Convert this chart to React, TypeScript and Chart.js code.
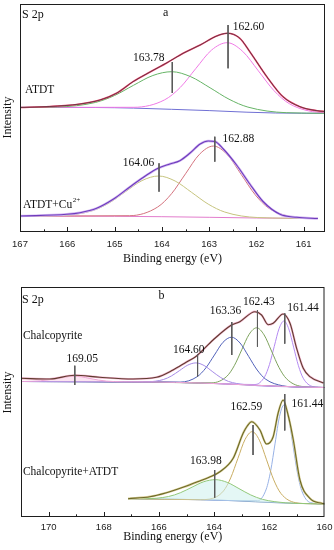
import { useEffect, useRef } from "react";
import { Chart, registerables } from "chart.js";

Chart.register(...registerables);

// ================= Panel a : S 2p, ATDT and ATDT+Cu2+ =================
const aTickLabels = ["167", "166", "165", "164", "163", "162", "161"];

// ATDT (upper spectrum)
const aTopBaseE = [167, 165.4, 164.6, 163.8, 163.0, 162.2, 161.6, 160.5];
const aTopBaseI = [124.6, 124.5, 123.9, 122.7, 121.4, 119.8, 119.0, 118.7];
const aTopFitE = [167.0, 166.37, 165.73, 165.31, 164.95, 164.61, 164.25, 163.89, 163.55, 163.19, 162.84, 162.62, 162.35, 162.14, 161.78, 161.44, 161.08, 160.72, 160.5];
const aTopFitI = [124.5, 125.5, 128.0, 132.0, 139.0, 150.3, 160.0, 169.3, 178.7, 187.0, 196.0, 198.7, 193.7, 180.3, 155.3, 135.3, 125.3, 121.3, 120.3];
const aTopGreenE = [167, 166.21, 165.4, 165.0, 164.6, 164.19, 163.79, 163.39, 162.98, 162.58, 162.18, 161.37, 160.5];
const aTopGreenI = [124.6, 125.0, 129.6, 136.5, 146.7, 156.5, 160.3, 155.3, 144.2, 132.8, 124.9, 119.3, 118.7];
const aTopPinkE = [167, 164.59, 163.94, 163.61, 163.28, 162.95, 162.62, 162.29, 161.96, 161.63, 161.3, 160.65, 160.5];
const aTopPinkI = [124.6, 124.7, 132.2, 144.6, 163.6, 181.9, 189.3, 180.6, 161.2, 141.4, 128.2, 119.5, 119.3];

// ATDT+Cu2+ (lower spectrum)
const aBotBaseE = [167, 165, 164, 163, 162, 161.5, 160.7];
const aBotBaseI = [16, 15.7, 15.3, 14.7, 14.0, 13.8, 13.6];
const aBotFitE = [167.0, 166.01, 165.73, 165.38, 165.03, 164.67, 164.32, 164.08, 163.83, 163.62, 163.41, 163.19, 163.02, 162.88, 162.7, 162.42, 162.14, 161.86, 161.5, 161.15, 160.7];
const aBotFitI = [16.0, 17.7, 19.3, 23.7, 32.7, 45.3, 57.0, 63.7, 68.0, 71.3, 78.7, 88.0, 91.0, 90.5, 83.0, 67.0, 48.0, 30.5, 17.7, 14.7, 13.5];
const aBotOliveE = [167, 166.17, 165.47, 165.12, 164.77, 164.42, 164.07, 163.72, 163.37, 163.02, 162.67, 161.97, 160.7];
const aBotOliveI = [16, 16.35, 21.3, 28.9, 40.3, 51.4, 56.0, 51.0, 39.6, 27.9, 19.95, 14.45, 13.6];
const aBotRedE = [167, 164.68, 164.09, 163.795, 163.5, 163.205, 162.91, 162.615, 162.32, 162.025, 161.73, 161.14, 160.7];
const aBotRedI = [16, 16.3, 24.95, 38.3, 58.2, 77.7, 85.95, 77.3, 57.4, 37.15, 23.55, 14.5, 13.6];

// peak markers of panel a
const aPeakText = ["162.60", "163.78", "162.88", "164.06"];
const aPeakE = [162.6, 163.78, 162.88, 164.06];
const aMarkTop = [207, 170, 95.3, 68.7];
const aMarkBot = [163.7, 139, 70.3, 40.3];

// ================= Panel b : S 2p, Chalcopyrite and Chalcopyrite+ATDT =================
const bTickLabels = ["170", "168", "166", "164", "162", "160"];

// Chalcopyrite (upper spectrum)
const bTopBaseE = [171, 166.3, 164.5, 162.7, 160.9, 160];
const bTopBaseI = [135.5, 135, 134, 132, 130, 129.5];
const bTopFitE = [171.0, 169.96, 169.06, 168.15, 166.94, 166.09, 165.49, 165.0, 164.66, 164.04, 163.37, 163.07, 162.52, 162.28, 162.04, 161.86, 161.5, 161.25, 161.01, 160.77, 160.53, 160.04];
const bTopFitI = [138.7, 138.0, 141.7, 139.7, 138.0, 139.7, 147.0, 155.0, 160.5, 177.0, 192.0, 195.3, 205.3, 202.0, 192.3, 193.7, 203.0, 193.7, 168.7, 148.7, 140.3, 134.0];
const bTop169E = [171, 170.9, 170.3, 170.0, 169.7, 169.4, 169.1, 168.8, 168.5, 168.2, 167.9, 167.3, 166.3, 164.5, 162.7, 160.9, 160];
const bTop169I = [135.5, 135.56, 136.2, 137.2, 138.7, 140.2, 140.8, 140.1, 138.5, 137.0, 135.9, 135.16, 135, 134, 132, 130, 129.5];
const bTop164E = [171, 166.43, 165.84, 165.545, 165.25, 164.955, 164.66, 164.365, 164.07, 163.775, 163.48, 162.89, 160.9, 160];
const bTop164I = [135.5, 135.27, 137.46, 141.1, 146.5, 151.9, 154.1, 151.5, 145.6, 139.7, 135.56, 132.4, 130, 129.5];
const bTop163E = [171, 166.3, 165.23, 164.61, 164.3, 163.99, 163.68, 163.37, 163.06, 162.75, 162.44, 162.13, 161.51, 160.9, 160];
const bTop163I = [135.5, 135, 134.9, 140.4, 149.1, 161.97, 174.67, 179.8, 173.97, 160.62, 146.99, 137.77, 131.2, 130, 129.5];
const bTop162E = [171, 166.3, 164.5, 164.08, 163.54, 163.27, 163.0, 162.73, 162.46, 162.19, 161.92, 161.65, 161.38, 160.84, 160];
const bTop162I = [135.5, 135, 134, 134.14, 140.68, 151.27, 167.17, 182.74, 189.2, 182.14, 165.97, 149.52, 138.33, 130.64, 129.5];
const bTop161E = [171, 166.3, 164.5, 162.52, 162.17, 161.995, 161.82, 161.645, 161.47, 161.295, 161.12, 160.945, 160.77, 160.42, 160];
const bTop161I = [135.5, 135, 134, 132.48, 140.25, 152.44, 170.67, 188.52, 196.0, 188.12, 169.87, 151.29, 138.75, 130.43, 129.5];

// Chalcopyrite+ATDT (lower spectrum)
const bBotBaseE = [167.12, 164.5, 163.5, 162.5, 161.5, 160.5, 160];
const bBotBaseI = [18.3, 17.3, 16.5, 15.2, 14.0, 13.3, 13.0];
const bBotFitE = [167.12, 166.33, 165.73, 165.13, 164.52, 164.18, 163.79, 163.31, 162.95, 162.8, 162.64, 162.34, 162.1, 161.86, 161.68, 161.5, 161.31, 161.13, 160.89, 160.53, 160.1, 160.0];
const bBotFitI = [18.3, 20.3, 24.3, 29.7, 36.0, 39.7, 45.3, 58.7, 83.7, 91.0, 95.3, 87.0, 73.0, 80.3, 104.0, 117.0, 101.0, 77.0, 37.0, 18.7, 13.7, 13.3];
const bBotGreenE = [167.12, 166.5, 165.65, 165.225, 164.8, 164.375, 163.95, 163.525, 163.1, 162.675, 162.25, 161.4, 160.5, 160];
const bBotGreenI = [18.3, 18.3, 20.51, 24.24, 29.85, 35.29, 37.36, 34.61, 28.41, 22.09, 17.67, 14.16, 13.3, 13.0];
const bBotTanE = [167.12, 164.5, 164.18, 163.66, 163.4, 163.14, 162.88, 162.62, 162.36, 162.1, 161.84, 161.58, 161.06, 160.5, 160];
const bBotTanI = [18.3, 17.3, 17.83, 26.1, 39.1, 58.49, 77.47, 85.35, 76.81, 57.18, 37.14, 23.57, 14.38, 13.3, 13.0];
const bBotBlueE = [167.12, 164.5, 163.5, 162.43, 162.11, 161.95, 161.79, 161.63, 161.47, 161.31, 161.15, 160.99, 160.83, 160.51, 160];
const bBotBlueI = [18.3, 17.3, 16.5, 16.21, 27.99, 46.36, 73.79, 100.65, 111.97, 100.29, 73.1, 45.37, 26.69, 14.39, 13.0];

// peak markers of panel b
const bPeakText = ["169.05", "164.60", "163.36", "162.43", "161.44", "161.44", "162.59", "163.98"];
const bPeakE = [169.05, 164.6, 163.36, 162.43, 161.44, 161.44, 162.59, 163.98];
const bMarkTop = [151.3, 163, 195, 207, 203.7, 123, 92, 47];
const bMarkBot = [132, 140.5, 162, 170.3, 173.3, 86.5, 62, 19.3];

// ================= helpers =================
const pts = (xs: number[], ys: number[]) => xs.map((x, i) => ({ x, y: ys[i] }));

function curve(xs: number[], ys: number[], color: string, width: number, order: number, extra: any = {}) {
  return {
    data: pts(xs, ys),
    borderColor: color,
    backgroundColor: color,
    borderWidth: width,
    pointRadius: 0,
    cubicInterpolationMode: "monotone",
    fill: false,
    order,
    ...extra,
  };
}

function markers(es: number[], tops: number[], bots: number[]) {
  return es.map((e, i) => ({
    data: [{ x: e, y: tops[i] }, { x: e, y: bots[i] }],
    borderColor: "#5a5a5a",
    borderWidth: 1,
    pointRadius: 0,
    tension: 0,
    fill: false,
    order: 0,
  }));
}

type Txt = { t: string; e: number; i: number; align: CanvasTextAlign; size: number; sup?: string };

function makeAnnot(texts: Txt[], intensityY: number) {
  return {
    id: "annot",
    afterDatasetsDraw(chart: any) {
      const { ctx, chartArea: ca } = chart;
      const xs = chart.scales.x;
      const ys = chart.scales.y;
      ctx.save();
      ctx.strokeStyle = "#1e1e1e";
      ctx.lineWidth = 1;
      ctx.strokeRect(ca.left + 0.5, ca.top + 0.5, ca.right - ca.left - 1, ca.bottom - ca.top - 1);
      ctx.beginPath();
      for (const tk of xs.ticks) {
        const px = Math.round(xs.getPixelForValue(tk.value)) + 0.5;
        if (px <= ca.left + 2 || px >= ca.right - 2) continue;
        const len = tk.label ? 5 : 2.7;
        ctx.moveTo(px, ca.bottom);
        ctx.lineTo(px, ca.bottom - len);
      }
      ctx.stroke();
      ctx.fillStyle = "#111";
      ctx.textBaseline = "middle";
      for (const tx of texts) {
        ctx.font = `${tx.size}px "Liberation Serif"`;
        ctx.textAlign = tx.align;
        const px = xs.getPixelForValue(tx.e);
        const py = ys.getPixelForValue(tx.i);
        ctx.fillText(tx.t, px, py);
        if (tx.sup) {
          const w = ctx.measureText(tx.t).width;
          ctx.font = `${(tx.size * 0.62).toFixed(1)}px "Liberation Serif"`;
          ctx.textAlign = "left";
          ctx.fillText(tx.sup, px + w + 0.5, py - 4.5);
        }
      }
      ctx.font = '12px "Liberation Serif"';
      ctx.textAlign = "center";
      ctx.translate(8, intensityY);
      ctx.rotate(-Math.PI / 2);
      ctx.fillText("Intensity", 0, 0);
      ctx.restore();
    },
  };
}

function baseOptions(min: number, max: number, step: number, yMax: number, tickLabels: string[], padding: any, axisHeight: number, tickPad: number, titlePad: number) {
  return {
    responsive: false,
    maintainAspectRatio: false,
    animation: false,
    events: [],
    layout: { padding },
    plugins: { legend: { display: false }, tooltip: { enabled: false } },
    scales: {
      x: {
        type: "linear",
        reverse: true,
        min,
        max,
        afterFit: (s: any) => {
          s.height = axisHeight;
          s.paddingLeft = 0;
          s.paddingRight = 0;
        },
        grid: { display: false, drawTicks: false },
        border: { display: false },
        ticks: {
          stepSize: step,
          includeBounds: false,
          autoSkip: false,
          maxRotation: 0,
          minRotation: 0,
          padding: tickPad,
          color: "#222",
          font: { family: "Liberation Sans", size: 9.5 },
          callback: (v: any) => (tickLabels.includes(String(v)) ? String(v) : ""),
        },
        title: {
          display: true,
          text: "Binding energy (eV)",
          color: "#111",
          font: { family: "Liberation Serif", size: 12 },
          padding: { top: 0, bottom: titlePad },
        },
      },
      y: { display: false, min: 0, max: yMax },
    },
  };
}

function configA() {
  const datasets: any[] = [
    curve(aTopBaseE, aTopBaseI, "#7070d4", 1, 6),
    curve(aTopGreenE, aTopGreenI, "#66b466", 1, 5),
    curve(aTopPinkE, aTopPinkI, "#f07ae6", 1, 5),
    curve(aTopFitE, aTopFitI, "#f0406c", 1.6, 3),
    curve(aTopFitE, aTopFitI, "#333333", 0.7, 2),
    curve(aBotBaseE, aBotBaseI, "#e27ccc", 1, 6),
    curve(aBotOliveE, aBotOliveI, "#c6c47e", 1, 5),
    curve(aBotRedE, aBotRedI, "#d4727e", 1, 5),
    curve(aBotFitE, aBotFitI, "#d2b6f2", 2.4, 4),
    curve(aBotFitE, aBotFitI, "#6e3cbc", 1.1, 3),
    ...markers(aPeakE, aMarkTop, aMarkBot),
  ];
  const texts: Txt[] = [
    { t: "S 2p", e: 166.958, i: 217, align: "left", size: 12 },
    { t: "a", e: 163.92, i: 219, align: "center", size: 12 },
    { t: aPeakText[0], e: 162.169, i: 204.7, align: "center", size: 11.5 },
    { t: aPeakText[1], e: 164.277, i: 173.7, align: "center", size: 11.5 },
    { t: "ATDT", e: 166.894, i: 142, align: "left", size: 11.5 },
    { t: aPeakText[2], e: 162.381, i: 92.7, align: "center", size: 11.5 },
    { t: aPeakText[3], e: 164.495, i: 68.7, align: "center", size: 11.5 },
    { t: "ATDT+Cu", sup: "2+", e: 166.937, i: 27.5, align: "left", size: 11.5 },
  ];
  return {
    type: "line",
    data: { datasets },
    options: baseOptions(160.55, 167, 0.5, 228, aTickLabels, { left: 20, right: 9, top: 4, bottom: 0 }, 38, 6.8, 4.3),
    plugins: [makeAnnot(texts, 117.5)],
  };
}

function configB() {
  const datasets: any[] = [
    curve(bTopBaseE, bTopBaseI, "#5a3ca2", 1, 6),
    curve(bTop169E, bTop169I, "#eea6d6", 1, 5, { fill: { target: 0 }, backgroundColor: "rgba(246,196,224,0.45)" }),
    curve(bTop164E, bTop164I, "#a58ae6", 1, 5),
    curve(bTop163E, bTop163I, "#5262ba", 1, 5),
    curve(bTop162E, bTop162I, "#7ea35e", 1, 5),
    curve(bTop161E, bTop161I, "#b48af2", 1, 5),
    curve(bTopFitE, bTopFitI, "#f4b4d0", 2.2, 4),
    curve(bTopFitE, bTopFitI, "#5e3c2e", 1.1, 3),
    curve(bBotBaseE, bBotBaseI, "#7d9cc4", 1, 6),
    curve(bBotGreenE, bBotGreenI, "#92c87a", 1, 5, { fill: { target: 8 }, backgroundColor: "rgba(206,240,236,0.55)" }),
    curve(bBotTanE, bBotTanI, "#c9ad62", 1, 5),
    curve(bBotBlueE, bBotBlueI, "#98b2e6", 1, 5),
    curve(bBotFitE, bBotFitI, "#dcd09c", 2.2, 4),
    curve(bBotFitE, bBotFitI, "#6c6a28", 1.1, 3),
    ...markers(bPeakE, bMarkTop, bMarkBot),
  ];
  const texts: Txt[] = [
    { t: "S 2p", e: 170.96, i: 217.3, align: "left", size: 12 },
    { t: "b", e: 165.91, i: 221, align: "center", size: 12 },
    { t: "Chalcopyrite", e: 170.93, i: 181.3, align: "left", size: 11.5 },
    { t: bPeakText[0], e: 168.78, i: 158.3, align: "center", size: 11.5 },
    { t: bPeakText[1], e: 164.92, i: 167.5, align: "center", size: 11.5 },
    { t: bPeakText[2], e: 163.59, i: 206.3, align: "center", size: 11.5 },
    { t: bPeakText[3], e: 162.38, i: 215, align: "center", size: 11.5 },
    { t: bPeakText[4], e: 160.78, i: 209.5, align: "center", size: 11.5 },
    { t: bPeakText[6], e: 162.83, i: 109.7, align: "center", size: 11.5 },
    { t: bPeakText[5], e: 160.62, i: 113.3, align: "center", size: 11.5 },
    { t: bPeakText[7], e: 164.3, i: 55.7, align: "center", size: 11.5 },
    { t: "Chalcopyrite+ATDT", e: 170.93, i: 44.7, align: "left", size: 11.5 },
  ];
  return {
    type: "line",
    data: { datasets },
    options: baseOptions(160, 171, 1, 230, bTickLabels, { left: 21, right: 9.5, top: 17, bottom: 0 }, 33, 4.8, 5.8),
    plugins: [makeAnnot(texts, 122.5)],
  };
}

function Panel({ top, height, make }: { top: number; height: number; make: () => any }) {
  const ref = useRef<HTMLCanvasElement>(null);
  useEffect(() => {
    const chart = new Chart(ref.current as HTMLCanvasElement, make());
    return () => chart.destroy();
  }, []);
  return (
    <canvas
      ref={ref}
      width={334}
      height={height}
      style={{ position: "absolute", left: 0, top, width: 334, height, display: "block" }}
    />
  );
}

export default function App() {
  return (
    <div style={{ position: "absolute", left: 0, top: 0, width: 334, height: 550, background: "#fff", overflow: "hidden" }}>
      <Panel top={0} height={270} make={configA} />
      <Panel top={270} height={280} make={configB} />
    </div>
  );
}
